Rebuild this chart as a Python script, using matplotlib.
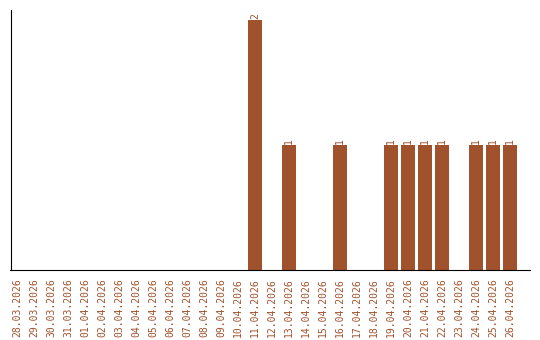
import matplotlib
matplotlib.use("Agg")
import matplotlib.pyplot as plt

dates = ['28.03.2026', '29.03.2026', '30.03.2026', '31.03.2026', '01.04.2026',
         '02.04.2026', '03.04.2026', '04.04.2026', '05.04.2026', '06.04.2026',
         '07.04.2026', '08.04.2026', '09.04.2026', '10.04.2026', '11.04.2026',
         '12.04.2026', '13.04.2026', '14.04.2026', '15.04.2026', '16.04.2026',
         '17.04.2026', '18.04.2026', '19.04.2026', '20.04.2026', '21.04.2026',
         '22.04.2026', '23.04.2026', '24.04.2026', '25.04.2026', '26.04.2026']
counts = [0, 0, 0, 0, 0, 0, 0, 0, 0, 0, 0, 0, 0, 0, 2,
          0, 1, 0, 0, 1, 0, 0, 1, 1, 1, 1, 0, 1, 1, 1]

color = '#A0522D'

fig = plt.figure(figsize=(5.4, 3.4), dpi=100)
ax = fig.add_axes([10.5/540, 70/340, (530-10.5)/540, 260/340])

x = range(len(dates))
ax.bar(x, counts, width=0.82, color=color)

# подписи значений над столбцами
for i, v in enumerate(counts):
    if v > 0:
        ax.text(i, v + 0.01, str(v), rotation=90, ha='center', va='bottom',
                color=color, fontsize=7, family='DejaVu Sans Mono')

ax.set_xticks(list(x))
ax.set_xticklabels(dates, rotation=90, color=color, fontsize=7,
                   family='DejaVu Sans Mono')
ax.tick_params(axis='x', length=0, pad=6)
ax.set_yticks([])
ax.set_xlim(-0.38, 30.18)
ax.set_ylim(0, 2.08)
ax.spines['top'].set_visible(False)
ax.spines['right'].set_visible(False)

fig.savefig('out.png', dpi=100)
